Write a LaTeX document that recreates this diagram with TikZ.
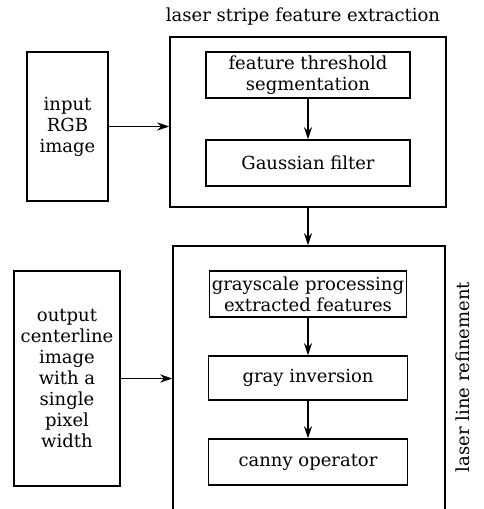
\documentclass[tikz,border=0pt]{standalone}
\usepackage{fontspec}
\setmainfont{DejaVu Serif}
\usepackage{tikz}
\usetikzlibrary{positioning, calc, arrows.meta}

\begin{document}
\begin{tikzpicture}[x=1pt, y=-1pt,
        box/.style={draw, line width=1.5pt, align=center, inner sep=0pt,
            font=\fontsize{18}{21}\selectfont},
        frame/.style={draw, line width=1.5pt, inner sep=0pt},
        lbl/.style={font=\fontsize{18}{21}\selectfont, inner sep=0pt},
        arr/.style={line width=1.5pt, -{Stealth[length=12pt, width=8pt, inset=4pt]}}]
    \clip (0,0) rectangle (484,509);
    % frames
    \node[frame, minimum width=276pt, minimum height=170pt] (extract) at (308,122) {};
    \node[frame, minimum width=272pt, minimum height=290pt] (refine) at (309,391) {};
    \node[lbl] (extractlbl) at (303,17) {laser stripe feature extraction};
    \node[lbl, rotate=90] (refinelbl) at (463,377) {laser line refinement};
    % outer boxes
    \node[box, minimum width=81pt, minimum height=149pt] (input) at (67.5,126.5)
        {input\\RGB\\image};
    \node[box, minimum width=106pt, minimum height=215pt] (output) at (67,378.5)
        {output\\centerline\\image\\with a\\single\\pixel\\width};
    % inner boxes
    \node[box, minimum width=204pt, minimum height=46pt] (thresh) at (308,75)
        {feature threshold\\segmentation};
    \node[box, minimum width=204pt, minimum height=46pt] (gauss) at (308,163)
        {Gaussian filter};
    \node[box, minimum width=197pt, minimum height=46pt] (gray) at (308,294)
        {grayscale processing\\extracted features};
    \node[box, minimum width=199pt, minimum height=44pt] (inv) at (308,378)
        {gray inversion};
    \node[box, minimum width=199pt, minimum height=46pt] (canny) at (308,462)
        {canny operator};
    % arrows
    \draw[arr] (input.east) -- (input.east -| extract.west);
    \draw[arr] (thresh) -- (gauss);
    \draw[arr] (extract.south -| thresh.south) -- (refine.north -| thresh.south);
    \draw[arr] (gray) -- (inv);
    \draw[arr] (inv) -- (canny);
    \draw[arr] (output.east) -- (output.east -| refine.west);
\end{tikzpicture}
\end{document}
